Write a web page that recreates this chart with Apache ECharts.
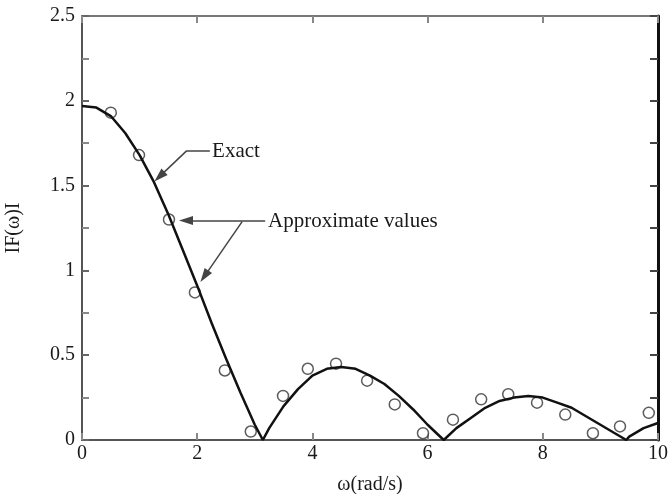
<!DOCTYPE html>
<html>
<head>
<meta charset="utf-8">
<script src="https://cdn.jsdelivr.net/npm/echarts@6/dist/echarts.min.js"></script>
<style>html,body{margin:0;padding:0;background:#fff}#c{width:668px;height:494px}</style>
</head>
<body>
<div id="c"></div>
<script>
// Exact curve
const exactW = [0,0.25,0.5,0.75,1.0,1.25,1.5,1.75,2.0,2.25,2.5,2.75,3.0,3.14,3.25,3.5,3.75,4.0,4.25,4.5,4.75,5.0,5.25,5.5,5.75,6.0,6.28,6.5,6.75,7.0,7.25,7.5,7.75,8.0,8.25,8.5,8.75,9.0,9.25,9.45,9.5,9.75,10];
const exactF = [1.97,1.96,1.91,1.81,1.68,1.52,1.33,1.12,0.91,0.69,0.48,0.28,0.09,0.0,0.07,0.20,0.30,0.38,0.42,0.43,0.42,0.38,0.33,0.26,0.18,0.09,0.0,0.07,0.13,0.19,0.23,0.25,0.26,0.25,0.22,0.19,0.14,0.09,0.04,0.0,0.02,0.07,0.10];
// Approximate values (circles)
const approxW = [0.50,0.99,1.51,1.96,2.48,2.93,3.49,3.92,4.41,4.95,5.43,5.92,6.44,6.93,7.40,7.90,8.39,8.87,9.34,9.84];
const approxF = [1.93,1.68,1.30,0.87,0.41,0.05,0.26,0.42,0.45,0.35,0.21,0.04,0.12,0.24,0.27,0.22,0.15,0.04,0.08,0.16];
const xTicks = [0,2,4,6,8,10];
const yTicks = [0,0.5,1,1.5,2,2.5];

const font = "'Liberation Serif', 'DejaVu Serif', serif";
const ink = '#1a1a1a';
const chart = echarts.init(document.getElementById('c'), null, {renderer:'canvas'});
const head = {symbol:'triangle', symbolSize:[9,14]};
chart.setOption({
  backgroundColor:'#fff',
  animation:false,
  grid:{left:82, right:10, top:16, bottom:54, containLabel:false, outerBoundsMode:'none'},
  xAxis:[{
    type:'value', min:xTicks[0], max:xTicks[xTicks.length-1], interval:2, position:'bottom',
    name:'ω(rad/s)', nameLocation:'middle', nameGap:35,
    nameTextStyle:{fontFamily:font, fontSize:20, color:ink},
    axisLine:{show:true, onZero:false, lineStyle:{color:'#555', width:2}},
    axisTick:{show:true, inside:true, length:7, lineStyle:{color:'#888', width:2}},
    axisLabel:{fontFamily:font, fontSize:20, color:ink, margin:4},
    splitLine:{show:false}
  },{
    type:'value', min:xTicks[0], max:xTicks[xTicks.length-1], interval:2, position:'top',
    axisLine:{show:true, onZero:false, lineStyle:{color:'#777', width:2}},
    axisTick:{show:true, inside:true, length:7, lineStyle:{color:'#888', width:2}},
    axisLabel:{show:false}, splitLine:{show:false}
  }],
  yAxis:[{
    type:'value', min:yTicks[0], max:yTicks[yTicks.length-1], interval:0.5, position:'left',
    name:'IF(ω)I', nameLocation:'middle', nameGap:58, nameRotate:90,
    nameTextStyle:{fontFamily:font, fontSize:20, color:ink},
    axisLine:{show:true, onZero:false, lineStyle:{color:'#555', width:2}},
    axisTick:{show:true, inside:true, length:7, lineStyle:{color:'#666', width:2}},
    minorTick:{show:true, splitNumber:2, length:7, lineStyle:{color:'#888', width:2}},
    axisLabel:{fontFamily:font, fontSize:20, color:ink, margin:7},
    splitLine:{show:false}, minorSplitLine:{show:false}
  },{
    type:'value', min:yTicks[0], max:yTicks[yTicks.length-1], interval:0.5, position:'right',
    axisLine:{show:true, onZero:false, lineStyle:{color:'#111', width:3}},
    axisTick:{show:true, inside:true, length:8, lineStyle:{color:'#444', width:2}},
    minorTick:{show:true, splitNumber:2, length:8, lineStyle:{color:'#444', width:2}},
    axisLabel:{show:false}, splitLine:{show:false}, minorSplitLine:{show:false}
  }],
  series:[{
    type:'line', name:'Exact', xAxisIndex:0, yAxisIndex:0,
    data: exactW.map((w,i)=>[w, exactF[i]]),
    showSymbol:false, smooth:false,
    lineStyle:{color:'#111', width:2.5},
    markLine:{
      silent:true,
      label:{show:false},
      lineStyle:{color:'#444', width:1.5, type:'solid'},
      data:[
        [{coord:[2.22,1.706], symbol:'none'},{coord:[1.82,1.706], symbol:'none'}],
        [{coord:[1.82,1.706], symbol:'none'},Object.assign({coord:[1.345,1.553]}, head)],
        [{coord:[3.18,1.294], symbol:'none'},Object.assign({coord:[1.806,1.294]}, head)],
        [{coord:[2.78,1.288], symbol:'none'},Object.assign({coord:[2.125,0.965]}, head)]
      ]
    },
    markPoint:{
      silent:true, symbol:'circle', symbolSize:1, itemStyle:{color:'rgba(0,0,0,0)'},
      label:{show:true, position:'right', distance:0, fontFamily:font, fontSize:21, color:ink, formatter:p=>p.name},
      data:[
        {name:'Exact', coord:[2.25,1.70]},
        {name:'Approximate values', coord:[3.22,1.29]}
      ]
    }
  },{
    type:'scatter', name:'Approximate values', xAxisIndex:0, yAxisIndex:0,
    data: approxW.map((w,i)=>[w, approxF[i]]),
    symbol:'circle', symbolSize:11,
    itemStyle:{color:'#fff', borderColor:'#333', borderWidth:1.5}
  }]
});
</script>
</body>
</html>
